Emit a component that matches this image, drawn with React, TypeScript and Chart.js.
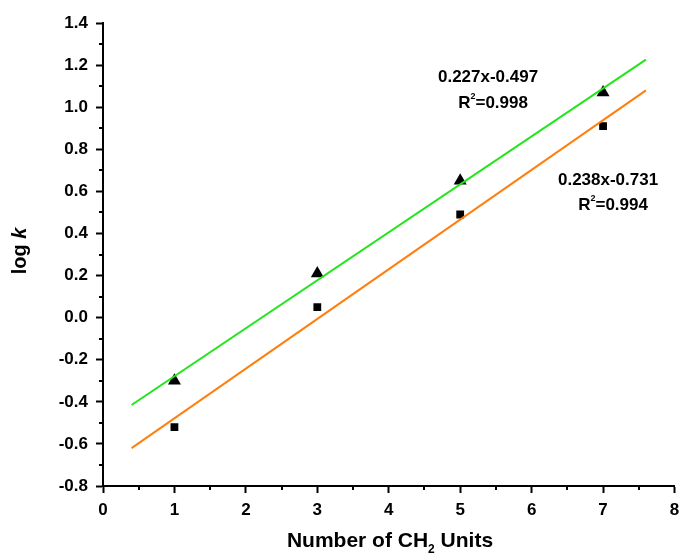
import React, { useEffect, useRef } from "react";
import { Chart, registerables } from "chart.js";

Chart.register(...registerables);

const triX = [1, 3, 5, 7];
const triY = [-0.3, 0.21, 0.65, 1.07];
const sqX = [1, 3, 5, 7];
const sqY = [-0.52, 0.05, 0.49, 0.91];
const fitX = [0.4, 7.6];
const greenFitY = [-0.415, 1.226];
const orangeFitY = [-0.62, 1.08];

const annotations = [
  { x: 5.39, y: 1.143, parts: [{ t: "0.227x-0.497" }] },
  { x: 5.46, y: 1.02, parts: [{ t: "R" }, { t: "2", sup: true }, { t: "=0.998" }] },
  { x: 7.07, y: 0.654, parts: [{ t: "0.238x-0.731" }] },
  { x: 7.14, y: 0.535, parts: [{ t: "R" }, { t: "2", sup: true }, { t: "=0.994" }] },
];

const FONT = "'Liberation Sans', Arial, sans-serif";

type Part = { t: string; sup?: boolean; sub?: boolean; italic?: boolean };

function drawParts(ctx: CanvasRenderingContext2D, parts: Part[], cx: number, cy: number, size: number) {
  const fontFor = (p: Part) => {
    const s = p.sup || p.sub ? Math.round(size * 0.55) : size;
    return `${p.italic ? "italic " : ""}bold ${s}px ${FONT}`;
  };
  let total = 0;
  const widths = parts.map((p) => {
    ctx.font = fontFor(p);
    const w = ctx.measureText(p.t).width;
    total += w;
    return w;
  });
  let x = cx - total / 2;
  ctx.textBaseline = "middle";
  ctx.textAlign = "left";
  parts.forEach((p, i) => {
    ctx.font = fontFor(p);
    let dy = 0;
    if (p.sup) dy = -size * 0.38;
    if (p.sub) dy = size * 0.42;
    ctx.fillText(p.t, x, cy + dy);
    x += widths[i];
  });
}

const extrasPlugin = {
  id: "extras",
  afterDraw(chart: any) {
    const ctx: CanvasRenderingContext2D = chart.ctx;
    const xs = chart.scales.x;
    const ys = chart.scales.y;
    const area = chart.chartArea;
    ctx.save();
    ctx.strokeStyle = "#000";
    ctx.lineWidth = 2;
    for (let v = xs.min + 0.5; v < xs.max; v += 1) {
      const px = Math.round(xs.getPixelForValue(v));
      ctx.beginPath();
      ctx.moveTo(px, area.bottom);
      ctx.lineTo(px, area.bottom + 4);
      ctx.stroke();
    }
    for (let i = 0; i < 11; i++) {
      const v = ys.min + 0.1 + i * 0.2;
      const py = Math.round(ys.getPixelForValue(v));
      ctx.beginPath();
      ctx.moveTo(area.left, py);
      ctx.lineTo(area.left - 4, py);
      ctx.stroke();
    }
    ctx.fillStyle = "#000";
    annotations.forEach((a) => {
      drawParts(ctx, a.parts, xs.getPixelForValue(a.x), ys.getPixelForValue(a.y), 17);
    });
    drawParts(
      ctx,
      [{ t: "Number of CH" }, { t: "2", sub: true }, { t: " Units" }],
      390,
      541,
      21
    );
    ctx.save();
    ctx.translate(20, 251);
    ctx.rotate(-Math.PI / 2);
    drawParts(ctx, [{ t: "log " }, { t: "k", italic: true }], 0, 0, 20);
    ctx.restore();
    ctx.restore();
  },
};

export default function App() {
  const ref = useRef<HTMLCanvasElement | null>(null);
  useEffect(() => {
    document.body.style.margin = "0";
    if (!ref.current) return;
    const chart = new Chart(ref.current, {
      type: "scatter",
      data: {
        datasets: [
          {
            type: "line",
            label: "fit1",
            data: fitX.map((x, i) => ({ x, y: greenFitY[i] })),
            borderColor: "#22e51b",
            borderWidth: 2,
            pointRadius: 0,
            showLine: true,
          },
          {
            type: "line",
            label: "fit2",
            data: fitX.map((x, i) => ({ x, y: orangeFitY[i] })),
            borderColor: "#ff7f0e",
            borderWidth: 2,
            pointRadius: 0,
            showLine: true,
          },
          {
            label: "tri",
            data: triX.map((x, i) => ({ x, y: triY[i] })),
            pointStyle: "triangle",
            pointRadius: 7.5,
            backgroundColor: "#000",
            borderColor: "#000",
            borderWidth: 0,
          },
          {
            label: "sq",
            data: sqX.map((x, i) => ({ x, y: sqY[i] })),
            pointStyle: "rect",
            pointRadius: 5.5,
            backgroundColor: "#000",
            borderColor: "#000",
            borderWidth: 0,
          },
        ],
      },
      options: {
        animation: false,
        responsive: false,
        maintainAspectRatio: false,
        layout: { padding: { top: 23, right: 5, left: 0, bottom: 0 } },
        plugins: { legend: { display: false }, tooltip: { enabled: false } },
        scales: {
          x: {
            type: "linear",
            min: 0,
            max: 8,
            afterFit: (s: any) => {
              s.height = 71;
              s.paddingRight = 0;
              s.paddingLeft = 0;
            },
            ticks: {
              stepSize: 1,
              color: "#000",
              padding: 7,
              font: { family: FONT, size: 17, weight: "bold" },
            },
            grid: {
              drawOnChartArea: false,
              drawTicks: true,
              tickLength: 7,
              tickWidth: 2,
              tickColor: "#000",
            },
            border: { color: "#000", width: 2 },
          },
          y: {
            type: "linear",
            min: -0.8,
            max: 1.4,
            afterFit: (s: any) => {
              s.width = 103;
            },
            ticks: {
              stepSize: 0.2,
              color: "#000",
              padding: 8,
              font: { family: FONT, size: 17, weight: "bold" },
              callback: (v: any) => Number(v).toFixed(1),
            },
            grid: {
              drawOnChartArea: false,
              drawTicks: true,
              tickLength: 7,
              tickWidth: 2,
              tickColor: "#000",
            },
            border: { color: "#000", width: 2 },
          },
        },
      },
      plugins: [extrasPlugin],
    });
    return () => chart.destroy();
  }, []);
  return (
    <div style={{ width: 682, height: 557, background: "#fff" }}>
      <canvas ref={ref} width={682} height={557} style={{ display: "block" }} />
    </div>
  );
}
